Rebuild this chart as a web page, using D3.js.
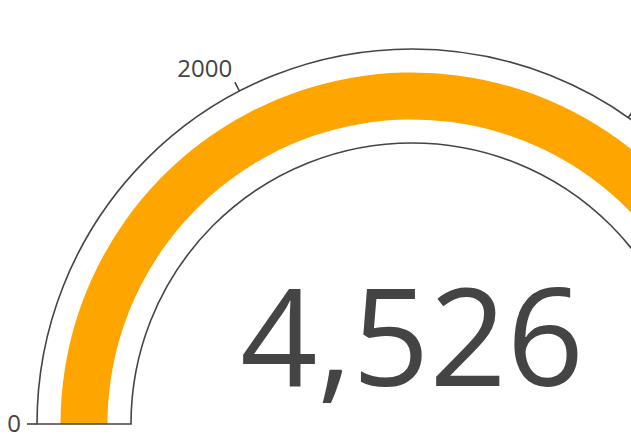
<!DOCTYPE html>
<html>
<head>
<meta charset="utf-8">
<script src="https://cdn.jsdelivr.net/npm/d3@7"></script>
<style>
  body { margin: 0; background: #fff; }
  svg { display: block; }
</style>
</head>
<body>
<svg id="gauge" width="631" height="435"></svg>
<script>
// gauge data
const gaugeValue = [4526];
const gaugeRange = [0, 5750];
const tickValues = [0, 2000, 4000];

const width = 631;
const height = 435;
const cx = 412, cy = 424;
const rOuter = 375, rInner = 281;
const band = rOuter - rInner;

const svg = d3.select("#gauge");
const g = svg.append("g").attr("transform", `translate(${cx},${cy})`);

// value -> angle (d3.arc angles: 0 at top, clockwise)
const angle = d3.scaleLinear().domain(gaugeRange).range([-Math.PI / 2, Math.PI / 2]);

// value bar
g.append("path")
  .attr("d", d3.arc()
    .innerRadius(rInner + band * 0.25)
    .outerRadius(rOuter - band * 0.25)
    .startAngle(angle(gaugeRange[0]))
    .endAngle(angle(gaugeValue[0]))())
  .attr("fill", "#ffa500");

// gauge outline
g.append("path")
  .attr("d", d3.arc()
    .innerRadius(rInner)
    .outerRadius(rOuter)
    .startAngle(angle(gaugeRange[0]))
    .endAngle(angle(gaugeRange[1]))())
  .attr("fill", "none")
  .attr("stroke", "#444")
  .attr("stroke-width", 1.6);

// ticks and labels
const ticks = g.selectAll("g.tick")
  .data(tickValues)
  .enter().append("g")
  .attr("class", "tick");

ticks.append("line")
  .attr("x1", d => Math.sin(angle(d)) * rOuter)
  .attr("y1", d => -Math.cos(angle(d)) * rOuter)
  .attr("x2", d => Math.sin(angle(d)) * (rOuter + 10))
  .attr("y2", d => -Math.cos(angle(d)) * (rOuter + 10))
  .attr("stroke", "#444")
  .attr("stroke-width", 1.6);

ticks.append("text")
  .attr("x", d => Math.sin(angle(d)) * (rOuter + 16))
  .attr("y", d => -Math.cos(angle(d)) * (rOuter + 16))
  .attr("text-anchor", d => {
    const s = Math.sin(angle(d));
    return s < -0.1 ? "end" : (s > 0.1 ? "start" : "middle");
  })
  .attr("dy", d => {
    const c = Math.cos(angle(d));
    return c > 0.1 ? "0em" : "0.35em";
  })
  .attr("font-family", "Open Sans, sans-serif")
  .attr("font-size", "24px")
  .attr("fill", "#444")
  .text(d => d);

// number
svg.append("text")
  .attr("x", cx)
  .attr("y", 386)
  .attr("text-anchor", "middle")
  .attr("font-family", "Open Sans, sans-serif")
  .attr("font-size", "135px")
  .attr("fill", "#444")
  .text(d3.format(",")(gaugeValue[0]));
</script>
</body>
</html>
